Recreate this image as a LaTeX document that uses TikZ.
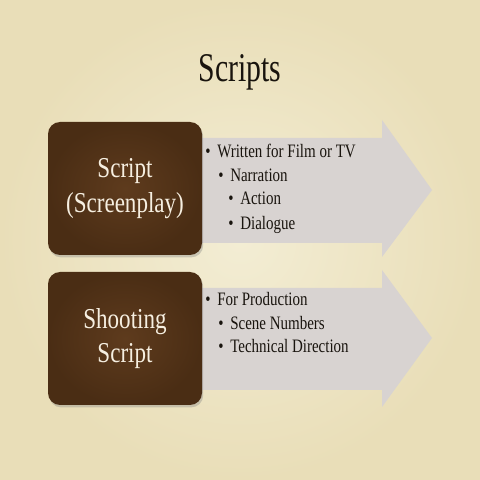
\documentclass[tikz,border=0pt]{standalone}
\usepackage[dvipsnames]{xcolor}
\usepackage{graphicx}
\usepackage{fontspec}
\setmainfont{Liberation Serif}
\usepackage{tikz}
\usetikzlibrary{shadows}

\definecolor{parchment}{RGB}{243,237,212}
\definecolor{parchmentdark}{RGB}{233,222,184}
\definecolor{brownlight}{RGB}{94,59,29}
\definecolor{browndark}{RGB}{74,45,20}
\definecolor{arrowgray}{RGB}{216,211,209}
\definecolor{boxcream}{RGB}{246,239,225}
\definecolor{ink}{RGB}{25,20,14}

\newcommand{\squeezed}[2][0.79]{\scalebox{#1}[1]{#2}}
\newcommand{\bul}{\textbullet\hspace{0.45em}}

\tikzset{
  titletext/.style={anchor=base, font=\fontsize{29}{34}\selectfont, text=ink, inner sep=0pt},
  itemtext/.style={anchor=base west, font=\fontsize{13.5}{16}\selectfont, text=ink, inner sep=0pt},
  brownbox/.style={inner color=brownlight, outer color=browndark, rounded corners=0.3cm,
    minimum width=3.85cm, minimum height=3.325cm,
    align=center, text=boxcream, font=\fontsize{20.5}{24.5}\selectfont,
    drop shadow={opacity=0.35, shadow xshift=0.03cm, shadow yshift=-0.06cm}},
  grayarrow/.style={fill=arrowgray}
}

\begin{document}
\begin{tikzpicture}
        \shade[inner color=parchment, outer color=parchmentdark] (0,0) rectangle (12,12);
        \useasboundingbox (0,0) rectangle (12,12);
        \node[titletext] (title) at (6,9.95) {\squeezed[0.73]{Scripts}};
        % arrows
        \fill[grayarrow] (4.875,8.55) -- (9.55,8.55) -- (9.55,9.0) -- (10.8,7.25) -- (9.55,5.575) -- (9.55,5.925) -- (4.875,5.925) -- cycle;
        \fill[grayarrow] (4.875,4.8) -- (9.55,4.8) -- (9.55,5.25) -- (10.8,3.55) -- (9.55,1.825) -- (9.55,2.25) -- (4.875,2.25) -- cycle;
        % boxes
        \node[brownbox] (script) at (3.125,7.2875) {\squeezed[0.8]{Script}\\\squeezed[0.8]{(Screenplay)}};
        \node[brownbox] (shooting) at (3.125,3.5375) {\squeezed[0.8]{Shooting}\\\squeezed[0.8]{Script}};
        % items
        \node[itemtext] (film) at (5.125,8.05) {\squeezed{\bul Written for Film or TV}};
        \node[itemtext] (narration) at (5.45,7.45) {\squeezed{\bul Narration}};
        \node[itemtext] (action) at (5.7,6.875) {\squeezed{\bul Action}};
        \node[itemtext] (dialogue) at (5.7,6.25) {\squeezed{\bul Dialogue}};
        \node[itemtext] (production) at (5.125,4.35) {\squeezed{\bul For Production}};
        \node[itemtext] (scenes) at (5.45,3.75) {\squeezed{\bul Scene Numbers}};
        \node[itemtext] (technical) at (5.45,3.175) {\squeezed{\bul Technical Direction}};
    \end{tikzpicture}
\end{document}
